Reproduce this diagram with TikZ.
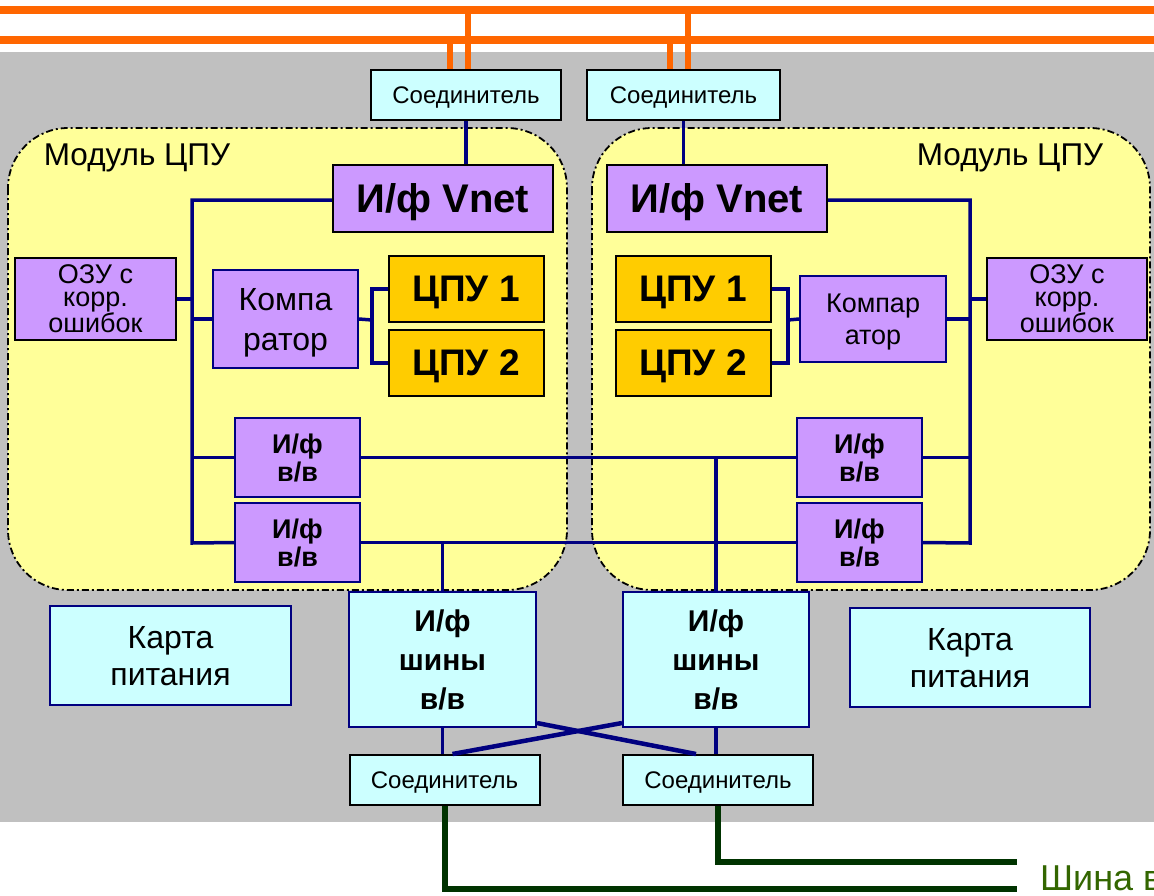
\documentclass[tikz,border=0pt]{standalone}
\usepackage{fontspec}
\setmainfont{Liberation Sans}
\definecolor{bgGrey}{HTML}{C0C0C0}
\definecolor{modYellow}{HTML}{FFFF99}
\definecolor{boxCyan}{HTML}{CCFFFF}
\definecolor{boxLilac}{HTML}{CC99FF}
\definecolor{cpuGold}{HTML}{FFCC00}
\definecolor{vnetOrange}{HTML}{FF6600}
\definecolor{linkNavy}{HTML}{000080}
\definecolor{ioGreen}{HTML}{003300}
\definecolor{labelGreen}{HTML}{336600}
\tikzset{
  blk/.style={draw, line width=2pt, inner sep=0pt, align=center, text depth=0pt},
  conbox/.style={blk, fill=boxCyan, minimum width=190pt, minimum height=50pt, font=\fontsize{24}{26}\selectfont},
  vnetbox/.style={blk, fill=boxLilac, minimum width=220pt, minimum height=67pt, font=\bfseries\fontsize{40}{42}\selectfont},
  ozubox/.style={blk, fill=boxLilac, minimum width=161pt, minimum height=82pt, font=\fontsize{27}{22.5}\selectfont},
  cmpbox/.style={blk, draw=linkNavy, fill=boxLilac, minimum width=145pt, font=\fontsize{32}{40}\selectfont},
  cpubox/.style={blk, fill=cpuGold, minimum width=155pt, minimum height=66pt, font=\bfseries\fontsize{37}{40}\selectfont},
  iobox/.style={blk, draw=linkNavy, fill=boxLilac, minimum width=125pt, minimum height=79pt, font=\bfseries\fontsize{27}{28}\selectfont},
  busbox/.style={blk, draw=linkNavy, fill=boxCyan, minimum width=187pt, minimum height=135pt, font=\bfseries\fontsize{30}{39}\selectfont},
  pwrbox/.style={blk, draw=linkNavy, fill=boxCyan, minimum width=241pt, minimum height=99pt, font=\fontsize{32}{37}\selectfont},
  module/.style={draw, fill=modYellow, line width=1.8pt, rounded corners=60pt, dash pattern=on 7pt off 3pt on 2pt off 3pt},
  modlabel/.style={font=\fontsize{31.5}{34}\selectfont, inner sep=0pt},
  link/.style={draw=linkNavy, line width=3.5pt},
  cross/.style={draw=linkNavy, line width=4.5pt},
  vnet/.style={draw=vnetOrange, line width=8pt},
  vnetdrop/.style={draw=vnetOrange, line width=6pt},
  iobus/.style={draw=ioGreen, line width=6pt}
}
\begin{document}
\begin{tikzpicture}[x=1pt,y=-1pt]
  \useasboundingbox (0,0) rectangle (1154,895);
  \fill[white] (0,0) rectangle (1154,895);
  \fill[bgGrey] (0,52) rectangle (1154,822);
  \coordinate (vnetA) at (0,10);
  \coordinate (vnetB) at (0,40);
  \draw[vnet] (vnetA) -- ++(1154,0);
  \draw[vnet] (vnetB) -- ++(1154,0);

  \draw[module] (8,128) rectangle (567,590);
  \draw[module] (592,128) rectangle (1150,590);
  \node[modlabel] (labL) at (137,158) {Модуль ЦПУ};
  \node[modlabel] (labR) at (1010,158) {Модуль ЦПУ};

  \coordinate (spL) at (192,543);
  \coordinate (spR) at (970,543);
  \coordinate (frkL) at (372,320);
  \coordinate (frkR) at (788,320);
  \coordinate (endL) at (1017,889);
  \coordinate (endR) at (1017,862);

  \node[conbox] (conTL) at (466,95) {Соединитель};
  \node[conbox, minimum width=193pt] (conTR) at (683.5,95) {Соединитель};
  \node[vnetbox] (vnetL) at (443,198.5) {И/ф Vnet};
  \node[vnetbox] (vnetR) at (717,198.5) {И/ф Vnet};
  \node[ozubox] (ozuL) at (95.5,299) {ОЗУ с\\корр.\\ошибок};
  \node[ozubox, minimum width=160pt] (ozuR) at (1067,299) {ОЗУ с\\корр.\\ошибок};
  \node[cmpbox, minimum height=98pt] (cmpL) at (285.5,319) {Компа\\ратор};
  \node[cmpbox, minimum width=146pt, minimum height=86pt, font=\fontsize{27}{32}\selectfont] (cmpR) at (873,319) {Компар\\атор};
  \node[cpubox] (cpu1L) at (466,289) {ЦПУ 1};
  \node[cpubox] (cpu2L) at (466,363) {ЦПУ 2};
  \node[cpubox] (cpu1R) at (693,289) {ЦПУ 1};
  \node[cpubox] (cpu2R) at (693,363) {ЦПУ 2};
  \node[iobox] (ioL1) at (297.5,457.5) {И/ф\\в/в};
  \node[iobox] (ioL2) at (297.5,542.5) {И/ф\\в/в};
  \node[iobox] (ioR1) at (859.5,457.5) {И/ф\\в/в};
  \node[iobox] (ioR2) at (859.5,542.5) {И/ф\\в/в};
  \node[pwrbox] (pwrL) at (170.5,655.5) {Карта\\питания};
  \node[pwrbox, minimum width=240pt] (pwrR) at (970,657.5) {Карта\\питания};
  \node[busbox] (busL) at (442.5,659.5) {И/ф\\шины\\в/в};
  \node[busbox, minimum width=186pt] (busR) at (716,659.5) {И/ф\\шины\\в/в};
  \node[conbox] (conBL) at (444.5,780) {Соединитель};
  \node[conbox] (conBR) at (718,780) {Соединитель};
  \node[font=\fontsize{36}{40}\selectfont, text=labelGreen, anchor=base west, inner sep=0pt] (shina) at (1040,890) {Шина в/в};

  \coordinate (tapL1) at ([xshift=-16pt]conTL.north);
  \coordinate (tapL2) at ([xshift=2pt]conTL.north);
  \coordinate (tapR1) at ([xshift=-13.5pt]conTR.north);
  \coordinate (tapR2) at ([xshift=4.5pt]conTR.north);
  \draw[vnetdrop] (tapL1) -- (tapL1 |- vnetB);
  \draw[vnetdrop] (tapL2) -- (tapL2 |- vnetA);
  \draw[vnetdrop] (tapR1) -- (tapR1 |- vnetB);
  \draw[vnetdrop] (tapR2) -- (tapR2 |- vnetA);

  \draw[link] (conTL.south) -- (conTL.south |- vnetL.north);
  \draw[link] (conTR.south) -- (conTR.south |- vnetR.north);
  \draw[link] ([yshift=-1.5pt]vnetL.west) -| (spL) -- (ioL2.west);
  \draw[link] ([yshift=-1.5pt]vnetR.east) -| (spR) -- (ioR2.east);
  \draw[link] (ozuL.east) -- (ozuL.east -| spL);
  \draw[link] (ozuR.west) -- (ozuR.west -| spR);
  \draw[link] (cmpL.west) -- (cmpL.west -| spL);
  \draw[link] (cmpR.east) -- (cmpR.east -| spR);
  \draw[link] (ioL1.west) -- (ioL1.west -| spL);
  \draw[link] (ioR1.east) -- (ioR1.east -| spR);
  \draw[link] (cmpL.east) -- (frkL);
  \draw[link] (cpu1L.west) -| (frkL) |- (cpu2L.west);
  \draw[link] (cmpR.west) -- (frkR);
  \draw[link] (cpu1R.east) -| (frkR) |- (cpu2R.east);
  \draw[link] (ioL1.east) -- (ioR1.west);
  \draw[link] (ioL2.east) -- (ioR2.west);
  \draw[link] (busL.north) -- (busL.north |- ioL2.east);
  \draw[link] (busR.north) -- (busR.north |- ioR1.west);
  \draw[link] (busL.south) -- (busL.south |- conBL.north);
  \draw[link] (busR.south) -- (busR.south |- conBR.north);
  \draw[cross] ([yshift=5pt]busL.south east) -- ([xshift=-22pt]conBR.north);
  \draw[cross] ([yshift=5pt]busR.south west) -- ([xshift=8pt]conBL.north);

  \draw[iobus] (conBL.south) |- (endL);
  \draw[iobus] (conBR.south) |- (endR);
\end{tikzpicture}
\end{document}
